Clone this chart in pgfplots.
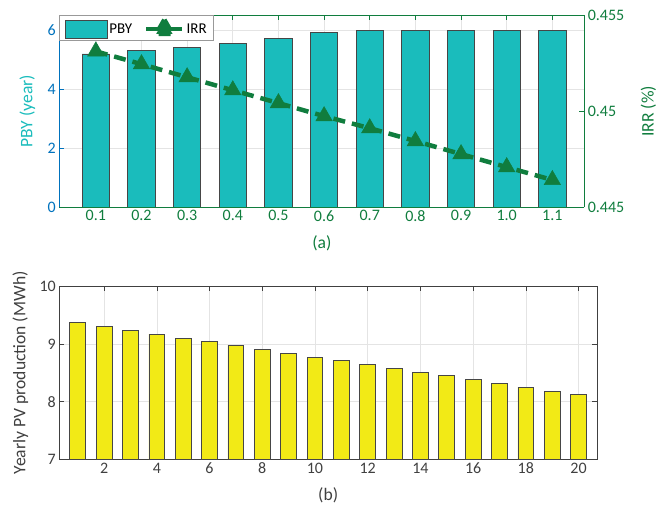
\documentclass[border=0pt]{standalone}
\usepackage{fontspec}
\setmainfont{Carlito}
\usepackage{pgfplots}
\pgfplotsset{compat=1.18}
\definecolor{tealbar}{RGB}{26,188,188}
\definecolor{irrg}{RGB}{16,125,62}
\definecolor{lblue}{RGB}{0,114,189}
\definecolor{axg}{RGB}{64,64,64}
\definecolor{yel}{RGB}{242,234,22}
\definecolor{gridc}{RGB}{228,228,228}
\definecolor{edgec}{RGB}{70,70,70}
\begin{document}
\begin{tikzpicture}
\useasboundingbox (0pt,0pt) rectangle (660pt,513pt);
\pgfplotsset{
  every axis/.append style={
    scale only axis,
    /pgf/number format/assume math mode=true,
    tick label style={font=\fontsize{16}{19}\selectfont},
    label style={font=\fontsize{17.6}{21}\selectfont},
    tick align=inside,
    major tick length=5pt,
    grid style={gridc, line width=0.6pt},
  }
}
% ---------- (a) left axis: PBY bars ----------
\begin{axis}[
  at={(59.3pt,306pt)}, anchor=south west,
  width=525pt, height=191.7pt,
  xmin=0.2, xmax=11.7, ymin=0, ymax=6.5,
  xtick={1,...,11},
  xticklabels={0.1,0.2,0.3,0.4,0.5,0.6,0.7,0.8,0.9,1.0,1.1},
  ytick={0,2,4,6},
  ytick pos=left, xtick pos=both,
  grid=major,
  separate axis lines,
  x axis line style={irrg, line width=0.8pt},
  y axis line style={lblue, line width=0.8pt},
  x tick style={irrg, line width=0.6pt},
  y tick style={lblue, line width=0.6pt},
  xticklabel style={color=irrg},
  yticklabel style={color=lblue},
  xlabel={(a)}, xlabel style={color=irrg, at={(axis description cs:0.5,-0.188)}, anchor=center},
  ylabel={PBY (year)}, ylabel style={color=tealbar, at={(axis description cs:-0.061,0.5)}, anchor=center},
]
\addplot[ybar, bar width=0.6, fill=tealbar, draw=edgec, line width=0.8pt] coordinates {
(1,5.19) (2,5.30) (3,5.41) (4,5.56) (5,5.72) (6,5.91) (7,5.99) (8,5.99) (9,5.99) (10,5.99) (11,5.99)};
\end{axis}
% ---------- (a) right axis: IRR line ----------
\begin{axis}[
  at={(59.3pt,306pt)}, anchor=south west,
  width=525pt, height=191.7pt,
  xmin=0.2, xmax=11.7, ymin=0.445, ymax=0.455,
  axis x line=none, axis y line*=right,
  ytick={0.445,0.45,0.455},
  yticklabels={0.445,0.45,0.455},
  y axis line style={irrg, line width=0.8pt},
  y tick style={irrg, line width=0.6pt},
  yticklabel style={color=irrg},
  ylabel={IRR (\%)}, ylabel style={color=irrg, at={(axis description cs:1.122,0.5)}, anchor=center},
  legend columns=2,
  legend style={at={(0,1)}, anchor=north west, draw=gray!80, fill=white,
    font=\fontsize{15}{18}\selectfont, inner xsep=5pt, inner ysep=2pt,
    /tikz/every even column/.append style={column sep=10pt}},
]
\addlegendimage{legend image code/.code={
  \draw[fill=tealbar, draw=edgec, line width=0.8pt] (0pt,-9pt) rectangle (42pt,9pt);}}
\addlegendentry{PBY}
\addplot[irrg, line width=4.5pt, dash pattern=on 12pt off 7pt, mark=triangle*,
  mark size=9.5pt, mark options={solid, line width=0.5pt},
  legend image code/.code={
    \draw[irrg, line width=4.5pt, solid] (0pt,0pt) -- (36pt,0pt);
    \fill[irrg] (18pt,0pt) ++(90:9.5pt) -- ++(240:16.45pt) -- ++(0:16.45pt) -- cycle;}]
  coordinates {
(1,0.45312) (2,0.45245) (3,0.45177) (4,0.45109) (5,0.45042) (6,0.44974)
(7,0.44911) (8,0.44844) (9,0.44776) (10,0.44708) (11,0.44641)};
\addlegendentry{IRR\hspace{6pt}}
\end{axis}
% ---------- (b) yearly PV production ----------
\begin{axis}[
  at={(59.3pt,53.7pt)}, anchor=south west,
  width=537.7pt, height=173pt,
  xmin=0.3, xmax=20.7, ymin=7, ymax=10,
  xtick={2,4,...,20}, ytick={7,8,9,10},
  grid=major,
  axis line style={axg, line width=0.8pt},
  tick style={axg, line width=0.6pt},
  ticklabel style={color=axg},
  xlabel={(b)}, xlabel style={color=axg, at={(axis description cs:0.5,-0.208)}, anchor=center},
  ylabel={Yearly PV production (MWh)}, ylabel style={color=axg, at={(axis description cs:-0.0725,0.5)}, anchor=center},
]
\addplot[ybar, bar width=0.6, fill=yel, draw=edgec, line width=0.8pt] coordinates {
(1,9.37) (2,9.30) (3,9.24) (4,9.17) (5,9.10) (6,9.04) (7,8.98) (8,8.91) (9,8.84) (10,8.77)
(11,8.71) (12,8.65) (13,8.58) (14,8.51) (15,8.45) (16,8.39) (17,8.32) (18,8.25) (19,8.18) (20,8.12)};
\end{axis}
\end{tikzpicture}
\end{document}
